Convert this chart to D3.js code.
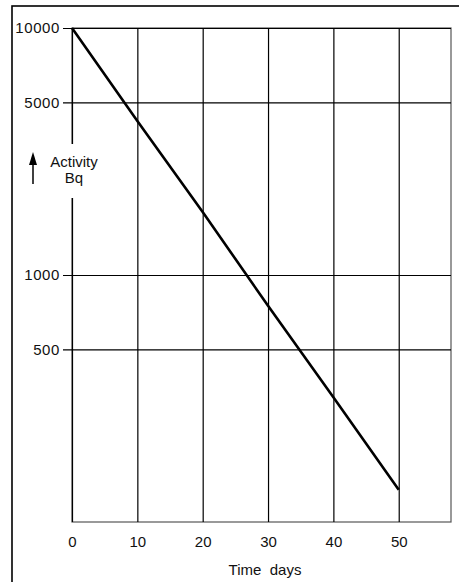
<!DOCTYPE html>
<html>
<head>
<meta charset="utf-8">
<script src="https://cdn.jsdelivr.net/npm/d3@7"></script>
<style>
  body { margin: 0; background: #fff; }
  svg { display: block; font-family: "Liberation Sans", Arial, sans-serif; }
  .tick text { fill: #111; }
</style>
</head>
<body>
<div id="chart"></div>
<script>
// Decay of activity over time (log scale)
const days = [0, 10, 20, 30, 40, 50];
const activity = [10000, 4200, 1800, 750, 320, 135];
const yTicks = [10000, 5000, 1000, 500];
const xTicks = [0, 10, 20, 30, 40, 50];

const W = 459, H = 582;
const plot = { left: 72, right: 451, top: 28, bottom: 522 };

const svg = d3.select('#chart').append('svg')
  .attr('width', W)
  .attr('height', H);

// outer frame (runs off the right and bottom of the picture)
svg.append('rect')
  .attr('x', 12).attr('y', 6)
  .attr('width', W + 20).attr('height', H + 20)
  .attr('fill', '#fff')
  .attr('stroke', '#000')
  .attr('stroke-width', 1.6);

const x = d3.scaleLinear().domain([0, 58]).range([plot.left, plot.right]);
const y = d3.scaleLog().domain([100, 10000]).range([plot.bottom, plot.top]);

// plot box
svg.append('rect')
  .attr('x', plot.left).attr('y', plot.top)
  .attr('width', plot.right - plot.left)
  .attr('height', plot.bottom - plot.top)
  .attr('fill', 'none')
  .attr('stroke', '#555')
  .attr('stroke-width', 1.2);

// horizontal grid + labels
const yAxis = d3.axisLeft(y)
  .tickValues(yTicks)
  .tickFormat(d => d)
  .tickSize(-(plot.right - 63))
  .tickPadding(3);

svg.append('g')
  .attr('transform', 'translate(63,0)')
  .call(yAxis)
  .call(g => g.select('.domain').remove())
  .call(g => g.selectAll('.tick line').attr('stroke', '#000').attr('stroke-width', 1.2))
  .call(g => g.selectAll('.tick text').attr('font-size', 15).attr('letter-spacing', 0.6).attr('font-family', null));

// vertical grid + labels
const xAxis = d3.axisBottom(x)
  .tickValues(xTicks)
  .tickSize(-(plot.bottom - plot.top))
  .tickPadding(14);

svg.append('g')
  .attr('transform', `translate(0,${plot.bottom})`)
  .call(xAxis)
  .call(g => g.select('.domain').remove())
  .call(g => g.selectAll('.tick line').attr('stroke', '#000').attr('stroke-width', 1.2))
  .call(g => g.selectAll('.tick text').attr('font-size', 15).attr('font-family', null));

// x axis title
svg.append('text')
  .attr('x', 265)
  .attr('y', 575)
  .attr('text-anchor', 'middle')
  .attr('font-size', 15)
  .style('white-space', 'pre')
  .attr('fill', '#111')
  .text('Time  days');

// y axis title with arrow, on a white patch that breaks the axis line
svg.append('rect')
  .attr('x', 48).attr('y', 144)
  .attr('width', 52).attr('height', 54)
  .attr('fill', '#fff');

svg.append('text')
  .attr('x', 74).attr('y', 167)
  .attr('text-anchor', 'middle')
  .attr('font-size', 15)
  .attr('fill', '#111')
  .text('Activity');

svg.append('text')
  .attr('x', 74).attr('y', 183)
  .attr('text-anchor', 'middle')
  .attr('font-size', 15)
  .attr('fill', '#111')
  .text('Bq');

svg.append('path')
  .attr('d', 'M33,152 L29,165 L37,165 Z')
  .attr('fill', '#000');
svg.append('line')
  .attr('x1', 33).attr('x2', 33)
  .attr('y1', 162).attr('y2', 184)
  .attr('stroke', '#000')
  .attr('stroke-width', 1.5);

// decay line
const pts = days.map((d, i) => ({ day: d, value: activity[i] }));
const line = d3.line()
  .x(d => x(d.day))
  .y(d => y(d.value));

svg.append('path')
  .datum(pts)
  .attr('d', line)
  .attr('fill', 'none')
  .attr('stroke', '#000')
  .attr('stroke-width', 2.6);
</script>
</body>
</html>
